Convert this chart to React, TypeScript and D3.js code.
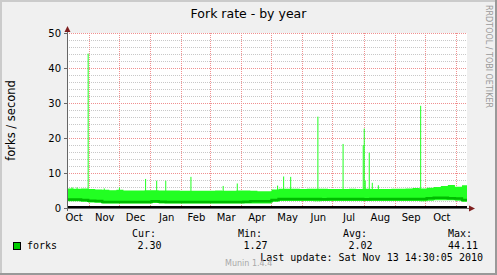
import React from "react";
import * as d3 from "d3";

const W = 497;
const H = 275;

const startDate = new Date(2009, 9, 10, 12);
const endDate = new Date(2010, 10, 11, 12);

// weekly values starting at startDate
const maxVals = [5.6,5.5,5.6,5.4, 5.3,5.2,5.1,5.2, 5.0,5.0,5.0,5.1, 5.1,5.0,5.0,5.0,4.9, 4.9,4.9,4.9,4.9, 5.0,4.9,4.9,5.0, 5.0,4.9,4.8,4.8, 5.3,5.5,5.5,5.5,5.4, 5.5,5.5,5.5,5.4, 5.4,5.4,5.5,5.4,5.5, 5.4,5.4,5.4,5.5, 5.5,5.6,5.7,5.6, 5.8,6.0,6.3,6.6,6.1,6.5];
const avgVals = [2.4,2.4,2.3,2.1, 2.0,1.7,1.7,1.7, 1.7,1.7,1.7,1.7, 1.9,1.8,1.7,1.7,1.7, 1.7,1.7,1.7,1.7, 1.7,1.7,1.7,1.7, 1.8,1.9,1.9,1.9, 2.3,2.6,2.6,2.6,2.6, 2.6,2.6,2.5,2.6, 2.6,2.6,2.6,2.6,2.5, 2.6,2.6,2.6,2.6, 2.6,2.6,2.6,2.6, 2.8,2.9,2.9,2.8,2.7,2.3];
const minVals = [1.9,1.9,1.8,1.6, 1.5,1.3,1.3,1.3, 1.3,1.3,1.3,1.3, 1.4,1.3,1.3,1.3,1.3, 1.3,1.3,1.3,1.3, 1.3,1.3,1.3,1.3, 1.3,1.3,1.3,1.3, 1.8,2.0,2.0,2.0,2.0, 2.0,1.9,2.0,2.0, 2.0,2.0,2.0,2.0,2.0, 2.0,2.0,2.0,2.0, 2.0,2.0,2.0,1.9, 2.1,2.2,2.2,2.2,2.1,1.8];

// daily spikes [year, month(0-based), day, value]
const spikes: [number, number, number, number][] = [
  [2009, 9, 15, 5.9], [2009, 9, 20, 5.9], [2009, 9, 31, 44.11], [2009, 10, 16, 5.6],
  [2009, 11, 1, 5.9], [2009, 11, 27, 8.3], [2010, 0, 7, 7.8], [2010, 0, 16, 7.8],
  [2010, 1, 10, 8.9], [2010, 2, 14, 6.3], [2010, 2, 28, 7.0], [2010, 4, 7, 6.4],
  [2010, 4, 13, 9.0], [2010, 4, 20, 8.9], [2010, 5, 16, 26.1], [2010, 6, 11, 18.3],
  [2010, 6, 31, 18.0], [2010, 7, 1, 22.7], [2010, 7, 2, 7.8], [2010, 7, 6, 15.8],
  [2010, 7, 9, 7.2], [2010, 7, 15, 6.5], [2010, 8, 26, 29.2],
];

const yTicks = [0, 10, 20, 30, 40, 50];
const legendHeaders = ["Cur:", "Min:", "Avg:", "Max:"];
const legendValues = ["2.30", "1.27", "2.02", "44.11"];
const seriesName = "forks";
const title = "Fork rate - by year";
const yLabel = "forks / second";
const lastUpdate = "Last update: Sat Nov 13 14:30:05 2010";
const munin = "Munin 1.4.4";
const rrdtool = "RRDTOOL / TOBI OETIKER";

const LIGHT = "#22ff22";
const DARK = "#00bb00";
const SANS = "DejaVu Sans";
const MONO = "DejaVu Sans Mono";

export default function App() {
  const x = d3.scaleTime().domain([startDate, endDate]).range([67, 467]);
  const y = d3.scaleLinear().domain([0, 50]).range([208, 33]);
  const crisp = (v: number) => Math.round(v) + 0.5;

  const weeks = maxVals.map((_, i) => d3.timeDay.offset(startDate, 7 * i));
  const band = weeks.map((d, i) => ({ d, hi: maxVals[i], lo: minVals[i], avg: avgVals[i] }));
  band.push({ d: endDate, hi: maxVals[maxVals.length - 1], lo: minVals[minVals.length - 1], avg: avgVals[avgVals.length - 1] });

  const area = d3.area<any>().x(p => x(p.d)).y0(p => y(p.lo)).y1(p => y(p.hi)).curve(d3.curveStepAfter);
  const line = d3.line<any>().x(p => x(p.d)).y(p => y(p.avg)).curve(d3.curveStepAfter);

  const months = d3.timeMonth.range(d3.timeMonth.floor(startDate), endDate);
  const monthLines = months.filter(m => x(m) > 68);
  const minor = d3.range(2, 51, 2).filter(v => v % 10 !== 0);
  const [x0, x1] = x.range();
  const fmt = d3.timeFormat("%b");

  const legendX = [132, 238, 343, 448];
  const valueRight = [161.5, 267.5, 372.5, 478];

  return (
    <svg width={W} height={H} style={{ position: "absolute", left: 0, top: 0 }} xmlns="http://www.w3.org/2000/svg">
      <rect x={0} y={0} width={W} height={H} fill="#f0f0f0" />
      <rect x={0} y={0} width={W} height={2} fill="#cbcbcb" />
      <rect x={0} y={0} width={2} height={H} fill="#cbcbcb" />
      <rect x={0} y={H - 2} width={W} height={2} fill="#999999" />
      <rect x={W - 2} y={0} width={2} height={H} fill="#999999" />

      <text x={W / 2} y={18} textAnchor="middle" fontFamily={SANS} fontSize={12.5} fill="#000">{title}</text>
      <text transform={`translate(486,5) rotate(90)`} fontFamily={SANS} fontSize={8} fill="#9a9a9a">{rrdtool}</text>

      <rect x={x0} y={y(50)} width={x1 - x0} height={y(0) - y(50)} fill="#ffffff" />

      {minor.map(v => (
        <line key={"mi" + v} x1={x0} x2={x1} y1={crisp(y(v))} y2={crisp(y(v))} stroke="#c8c8c8" strokeDasharray="1,1" />
      ))}
      {yTicks.filter(v => v > 0).map(v => (
        <line key={"ma" + v} x1={x0} x2={x1} y1={crisp(y(v))} y2={crisp(y(v))} stroke="#f09090" strokeDasharray="1,1" />
      ))}
      {monthLines.map((m, i) => (
        <line key={"ml" + i} x1={crisp(x(m))} x2={crisp(x(m))} y1={y(50)} y2={y(0)} stroke="#f09090" strokeDasharray="1,1" />
      ))}

      {spikes.map(([yy, mm, dd, v], i) => {
        const d = new Date(yy, mm, dd);
        return <rect key={"s" + i} x={x(d)} y={y(v)} width={Math.max(1, x(d3.timeDay.offset(d, 1)) - x(d))} height={y(2) - y(v)} fill={LIGHT} />;
      })}
      <path d={area(band) || ""} fill={LIGHT} />
      <path d={line(band) || ""} fill="none" stroke={DARK} strokeWidth={2.5} />

      <rect x={x0} y={y(0) - 2} width={x1 - x0} height={2} fill="#000" />

      {yTicks.map(v => (
        <g key={"yt" + v}>
          <line x1={x0 - 3} x2={x0} y1={crisp(y(v))} y2={crisp(y(v))} stroke="#666" />
          <text x={61} y={y(v) + 3.6} textAnchor="end" fontFamily={SANS} fontSize={10} fill="#000">{v}</text>
        </g>
      ))}
      {months.map((m, i) => {
        const next = d3.timeMonth.offset(m, 1);
        const cx = (x(m) + x(next)) / 2 + 1;
        return cx > x0 && cx < x1 ? (
          <text key={"mt" + i} x={cx} y={220.5} textAnchor="middle" fontFamily={SANS} fontSize={10} fill="#000">{fmt(m)}</text>
        ) : null;
      })}

      <line x1={crisp(x0)} x2={crisp(x0)} y1={y(0) + 3} y2={y(50) - 4} stroke="#666" />
      <line x1={x0 - 3} x2={x1 + 3} y1={crisp(y(0))} y2={crisp(y(0))} stroke="#666" />
      <path d={`M${crisp(x0) - 3},${y(50) - 1}L${crisp(x0) + 3},${y(50) - 1}L${crisp(x0)},${y(50) - 7}Z`} fill="#7f1f1f" />
      <path d={`M${x1 + 2},${crisp(y(0)) - 3}L${x1 + 2},${crisp(y(0)) + 3}L${x1 + 8},${crisp(y(0))}Z`} fill="#7f1f1f" />

      <text transform={`translate(15,${(y(0) + y(50)) / 2}) rotate(-90)`} textAnchor="middle" fontFamily={SANS} fontSize={11.5} fill="#000">{yLabel}</text>

      <rect x={13.5} y={242.5} width={7} height={7} fill="#00cc00" stroke="#000" />
      <text x={27} y={248.5} fontFamily={MONO} fontSize={10} fill="#000">{seriesName}</text>
      {legendHeaders.map((h, i) => (
        <text key={"lh" + i} x={legendX[i]} y={237.3} fontFamily={MONO} fontSize={10} fill="#000">{h}</text>
      ))}
      {legendValues.map((v, i) => (
        <text key={"lv" + i} x={valueRight[i]} y={248.5} textAnchor="end" fontFamily={MONO} fontSize={10} fill="#000">{v}</text>
      ))}
      <text x={483} y={260.5} textAnchor="end" fontFamily={MONO} fontSize={10} fill="#000">{lastUpdate}</text>
      <text x={225} y={266} fontFamily={SANS} fontSize={8} fill="#a8a8a8">{munin}</text>
    </svg>
  );
}
